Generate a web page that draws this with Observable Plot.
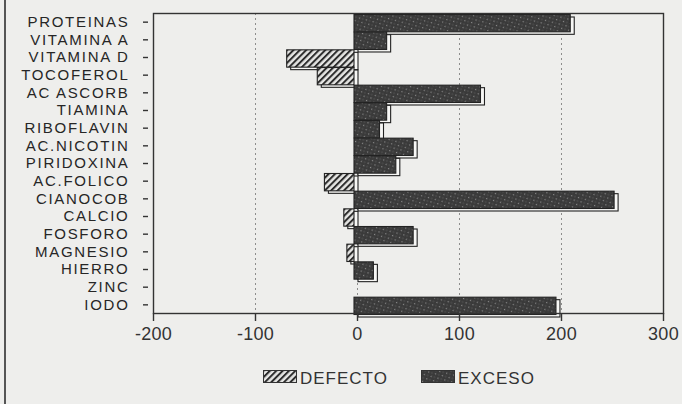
<!DOCTYPE html>
<html>
<head>
<meta charset="utf-8">
<script src="https://cdn.jsdelivr.net/npm/d3@7"></script>
<script src="https://cdn.jsdelivr.net/npm/@observablehq/plot@0.6"></script>
<style>
  html, body { margin: 0; padding: 0; background: #eeeeec; }
  #wrap { position: relative; width: 682px; height: 404px; overflow: hidden; background: #eeeeec;
          font-family: "Liberation Sans", Arial, sans-serif; color: #2a2a2a; }
  #edge { position: absolute; left: 4px; top: 0; width: 2px; height: 404px; background: #555; }
  #legend { position: absolute; left: 0; top: 355px; width: 682px; height: 49px; }
  .sw { position: absolute; width: 34px; height: 13px; top: 15px; }
  .lt { position: absolute; top: 14px; font-size: 17px; line-height: 19px; letter-spacing: 1px; color: #333; }
</style>
</head>
<body>
<svg width="0" height="0" style="position:absolute">
  <defs>
    <pattern id="hatch" patternUnits="userSpaceOnUse" width="4.5" height="4.5" patternTransform="rotate(45)">
      <rect width="4.5" height="4.5" fill="#e6e6e4"></rect>
      <rect x="0" y="0" width="2" height="4.5" fill="#2c2c2c"></rect>
    </pattern>
    <pattern id="speck" patternUnits="userSpaceOnUse" width="5" height="5" patternTransform="rotate(-30)">
      <rect width="5" height="5" fill="#3a3a3a"></rect>
      <rect x="0" y="0" width="1.2" height="1.2" fill="#8c8c8c"></rect>
      <rect x="2.5" y="2.5" width="1" height="1" fill="#6a6a6a"></rect>
    </pattern>
  </defs>
</svg>
<div id="wrap">
  <div id="edge"></div>
  <div id="chart"></div>
  <div id="legend">
    <svg class="sw" style="left:263px" width="34" height="13"><rect x="0.5" y="0.5" width="33" height="12" fill="url(#hatch)" stroke="#333"></rect></svg>
    <div class="lt" style="left:300px">DEFECTO</div>
    <svg class="sw" style="left:421px" width="34" height="13"><rect x="0.5" y="0.5" width="33" height="12" fill="url(#speck)" stroke="#333"></rect></svg>
    <div class="lt" style="left:458px">EXCESO</div>
  </div>
</div>
<script>
const categories = ["PROTEINAS","VITAMINA A","VITAMINA D","TOCOFEROL","AC ASCORB","TIAMINA","RIBOFLAVIN","AC.NICOTIN","PIRIDOXINA","AC.FOLICO","CIANOCOB","CALCIO","FOSFORO","MAGNESIO","HIERRO","ZINC","IODO"];
const defecto = [0, 0, -66, -36, 0, 0, 0, 0, 0, -29, 0, -10, 0, -7, 0, 0, 0];
const exceso  = [212, 32, 0, 0, 124, 32, 25, 58, 41, 0, 255, 0, 58, 0, 19, 0, 198];
const seriesNames = ["DEFECTO", "EXCESO"];
const xTicks = [-200, -100, 0, 100, 200, 300];
const gridTicks = [-100, 0, 100, 200];

const rows = [];
categories.forEach((c, i) => {
  if (defecto[i] !== 0) rows.push({cat: c, serie: seriesNames[0], value: defecto[i]});
  if (exceso[i] !== 0) rows.push({cat: c, serie: seriesNames[1], value: exceso[i]});
});

const svg = Plot.plot({
  width: 682,
  height: 355,
  marginLeft: 153,
  marginRight: 19,
  marginTop: 13,
  marginBottom: 42,
  style: {background: "transparent", fontFamily: "Liberation Sans, Arial, sans-serif", color: "#2a2a2a"},
  x: {domain: [-200, 300], label: null},
  y: {type: "band", domain: categories, paddingInner: 0.02, paddingOuter: 0, round: false, label: null},
  color: {domain: seriesNames, range: ["url(#hatch)", "url(#speck)"]},
  marks: [
    Plot.gridX(gridTicks, {stroke: "#555", strokeOpacity: 0.8, strokeDasharray: "2,3", strokeWidth: 0.8}),
    Plot.barX(rows, {y: "cat", x1: () => 0, x2: "value", dx: 1, dy: 4, fill: "#f7f7f5", stroke: "#222", strokeWidth: 1.1}),
    Plot.barX(rows, {y: "cat", x1: () => 0, x2: "value", dx: -3, dy: 1.5, fill: "serie", stroke: "#222", strokeWidth: 1.1}),
    Plot.frame({stroke: "#333", strokeWidth: 1.4}),
    Plot.axisX({ticks: xTicks, tickSize: 8, tickPadding: 6, fontSize: 18, tickFormat: d => String(d), stroke: "#333", strokeWidth: 1.4, fill: "#333", label: null}),
    Plot.axisY({tickSize: 5, tickPadding: 14, dx: -5, fontSize: 15, stroke: "#333", strokeWidth: 1.4, fill: "#262626", label: null})
  ]
});
d3.select(svg).selectAll('g[aria-label="y-axis tick label"] text').style("letter-spacing", "1.7px");
d3.select(svg).selectAll('g[aria-label="x-axis tick label"] text').style("letter-spacing", "0.3px");
document.getElementById("chart").appendChild(svg);
</script>
</body>
</html>
